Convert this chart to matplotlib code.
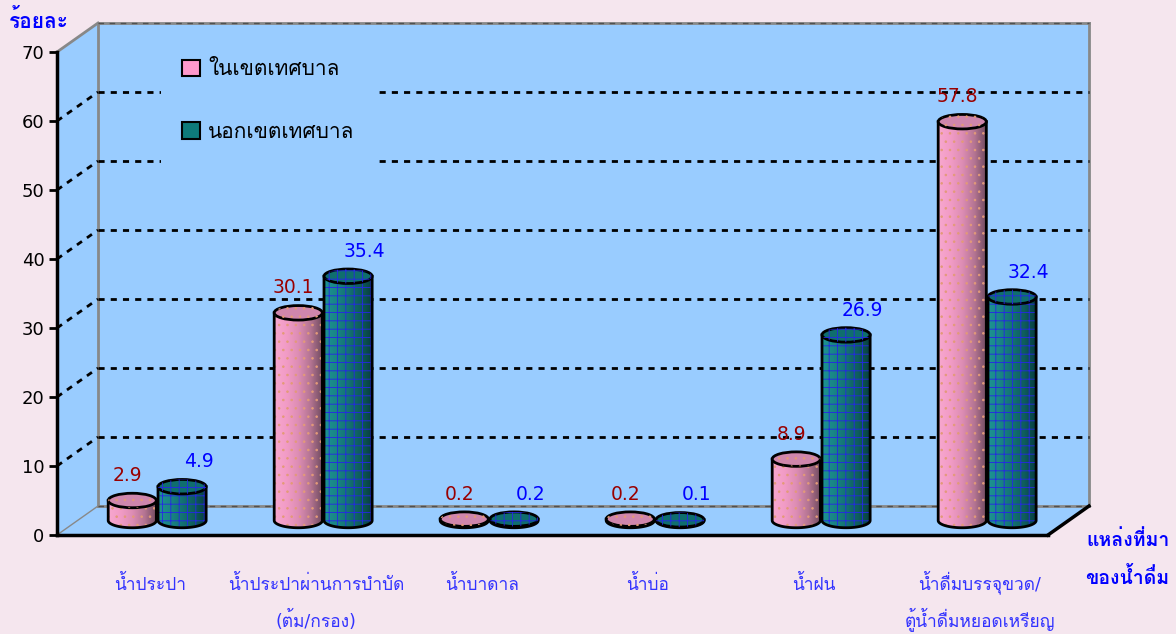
import numpy as np
import matplotlib
matplotlib.use("Agg")
import matplotlib.pyplot as plt
from matplotlib.patches import Polygon, Ellipse, Patch
from matplotlib.colors import LinearSegmentedColormap

plt.rcParams['font.family'] = ['DejaVu Sans', 'Loma']
plt.rcParams['hatch.linewidth'] = 0.6

# ข้อมูล
categories = ['น้ำประปา', 'น้ำประปาผ่านการบำบัด\n(ต้ม/กรอง)', 'น้ำบาดาล', 'น้ำบ่อ',
              'น้ำฝน', 'น้ำดื่มบรรจุขวด/\nตู้น้ำดื่มหยอดเหรียญ']
in_muni = [2.9, 30.1, 0.2, 0.2, 8.9, 57.8]
out_muni = [4.9, 35.4, 0.2, 0.1, 26.9, 32.4]
series_names = ['ในเขตเทศบาล', 'นอกเขตเทศบาล']
yticks = [0, 10, 20, 30, 40, 50, 60, 70]

bg = '#F5E6EE'
wall = '#99CCFF'
DX, DY = 0.247, 4.2          # ความลึกของกล่อง 3 มิติ (หน่วยข้อมูล)
x0, x1 = -0.48, 5.49
ymax = 70
w, eh = 0.145, 1.05           # รัศมีทรงกระบอก

pink_cmap = LinearSegmentedColormap.from_list(
    'pk', ['#F8A8CF', '#F29CC6', '#DD8DB4', '#B47492', '#6E4A5E'])
teal_cmap = LinearSegmentedColormap.from_list(
    'tl', ['#1D9494', '#198585', '#137272', '#0E5C5C', '#073C3C'])

fig = plt.figure(figsize=(11.76, 6.34), dpi=100, facecolor=bg)
ax = fig.add_axes([57/1176, 99/634, 991/1176, 483/634])
ax.set_facecolor('none')
ax.set_xlim(x0, x1)
ax.set_ylim(0, ymax)
for s in ['top', 'right']:
    ax.spines[s].set_visible(False)
ax.spines['left'].set_linewidth(2.5)
ax.spines['bottom'].set_linewidth(2.5)
ax.spines['left'].set_zorder(6)
ax.set_xticks([])
ax.set_yticks(yticks)
ax.tick_params(axis='y', direction='out', length=6, width=2, labelsize=13, pad=3)

# ผนังและพื้น
ax.add_patch(Polygon([(x0 + DX, DY), (x1 + DX, DY), (x1 + DX, ymax + DY), (x0 + DX, ymax + DY)],
                     closed=True, fc=wall, ec='none', zorder=0.5, clip_on=False))
ax.add_patch(Polygon([(x0, 0), (x0 + DX, DY), (x0 + DX, ymax + DY), (x0, ymax)],
                     closed=True, fc=wall, ec='none', zorder=0.5, clip_on=False))
ax.add_patch(Polygon([(x0, 0), (x1, 0), (x1 + DX, DY), (x0 + DX, DY)],
                     closed=True, fc=wall, ec='none', zorder=0.5, clip_on=False))

gray = '#888888'
edge_kw = dict(color=gray, lw=2, clip_on=False, zorder=1)
ax.plot([x0 + DX, x0 + DX], [DY, ymax + DY], **edge_kw)
ax.plot([x1 + DX, x1 + DX], [DY, ymax + DY], **edge_kw)
ax.plot([x0, x0 + DX], [ymax, ymax + DY], **edge_kw)
ax.plot([x0, x0 + DX], [0, DY], color=gray, lw=1, clip_on=False, zorder=1)
for yy in [DY, ymax + DY]:
    ax.plot([x0 + DX, x1 + DX], [yy, yy], **edge_kw)
    ax.plot([x0 + DX, x1 + DX], [yy, yy], color='#505050', lw=1,
            dashes=(4, 4), clip_on=False, zorder=1.1)
ax.plot([x1, x1 + DX], [0, DY], color='black', lw=2.5, clip_on=False, zorder=1.2)

# เส้นกริด
for v in yticks[1:-1]:
    ax.plot([x0 + DX, x1 + DX], [v + DY, v + DY], color='black', lw=2,
            dashes=(2.2, 2.2), clip_on=False, zorder=1.5)
    ax.plot([x0, x0 + DX], [v, v + DY], color='black', lw=2,
            dashes=(2.2, 2.2), clip_on=False, zorder=1.5)


def cylinder(xc, v, cmap, topc, hatch, hcol, z):
    y0 = DY / 2
    y1 = y0 + v
    t = np.linspace(np.pi, 2 * np.pi, 80)
    arc = np.column_stack([xc + w * np.cos(t), y0 + eh * np.sin(t)])
    verts = np.vstack([arc, [[xc + w, y1], [xc - w, y1]]])
    body = Polygon(verts, closed=True, fc='none', ec='none', zorder=z)
    ax.add_patch(body)
    grad = np.linspace(0, 1, 200).reshape(1, -1)
    im = ax.imshow(grad, extent=[xc - w, xc + w, y0 - eh, y1], cmap=cmap,
                   aspect='auto', zorder=z, interpolation='bilinear')
    im.set_clip_path(body)
    ax.add_patch(Polygon(verts, closed=True, fc='none', ec=hcol, lw=0,
                         hatch=hatch, zorder=z + 0.01))
    ax.add_patch(Polygon(verts, closed=True, fc='none', ec='black', lw=2,
                         zorder=z + 0.02))
    ax.add_patch(Ellipse((xc, y1), 2 * w, 2 * eh, fc=topc, ec='black', lw=2,
                         zorder=z + 0.03))
    ax.add_patch(Ellipse((xc, y1), 2 * w, 2 * eh, fc='none', ec=hcol, lw=0,
                         hatch=hatch, zorder=z + 0.04))
    return y1


line_gap = 37 / 6.9   # ระยะบรรทัดของชื่อหมวด (หน่วยข้อมูล)
for i in range(len(categories)):
    xp = i - 0.15 + DX / 2
    xt = i + 0.15 + DX / 2
    top_p = cylinder(xp, in_muni[i], pink_cmap, '#CF86AC', '..', '#E39A78', 3 + i * 0.2)
    top_t = cylinder(xt, out_muni[i], teal_cmap, '#0F6E6E', '++', '#2626E6', 3.1 + i * 0.2)
    ax.text(xp - 0.03, top_p + 3.6, f'{in_muni[i]:.1f}', color='#990000',
            fontsize=13.5, ha='center', va='center', zorder=8)
    ax.text(xt + 0.1, top_t + 3.6, f'{out_muni[i]:.1f}', color='#0000FF',
            fontsize=13.5, ha='center', va='center', zorder=8)
    for k, line in enumerate(categories[i].split('\n')):
        ax.text(i + 0.08, -7.9 - k * line_gap, line, color='#3333FF', fontsize=12.5,
                ha='center', va='baseline', clip_on=False)

ax.text(-0.59, 74.6, 'ร้อยละ', color='#0000FF', fontsize=15, fontweight='bold',
        ha='center', va='center', clip_on=False)
ax.text(5.97, -3.5, 'แหล่งที่มา\nของน้ำดื่ม', color='#0000FF', fontsize=14,
        fontweight='bold', ha='center', va='center', linespacing=1.95, clip_on=False)

handles = [Patch(fc='#FF99CC', ec='black', lw=1.5),
           Patch(fc='#0E7A7A', ec='black', lw=1.5)]
leg = ax.legend(handles, series_names, loc='upper left',
                bbox_to_anchor=(151/1176, 1 - 28/634), bbox_transform=fig.transFigure,
                fontsize=15, frameon=True, facecolor=wall, edgecolor='none',
                framealpha=1, fancybox=False, handlelength=0.85, handleheight=0.85,
                handletextpad=0.4, labelspacing=2.05, borderpad=1.0)
leg.set_zorder(10)

fig.savefig('out.png', dpi=100, facecolor=bg)
